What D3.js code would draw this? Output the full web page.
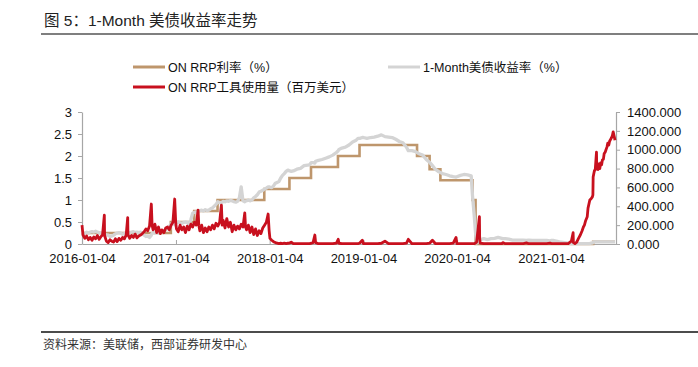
<!DOCTYPE html>
<html><head><meta charset="utf-8">
<script src="https://cdn.jsdelivr.net/npm/d3@7"></script>
<style>
html,body{margin:0;padding:0;background:#fff;}
svg{display:block;}
text{font-family:"Liberation Sans",Arial,"Noto Sans CJK SC",sans-serif;}
</style></head>
<body>
<svg id="chart" width="698" height="367"></svg>
<script>
// ---------- DATA ----------
const titleText = "图 5：1-Month 美债收益率走势";
const sourceText = "资料来源：美联储，西部证券研发中心";
const seriesNames = ["ON RRP利率（%）", "1-Month美债收益率（%）", "ON RRP工具使用量（百万美元）"];

const dates = [
  // 2016
  "2016-01-04","2016-01-08","2016-01-15","2016-01-22","2016-01-29",
  "2016-02-05","2016-02-12","2016-02-19","2016-02-26",
  "2016-03-04","2016-03-11","2016-03-18","2016-03-24","2016-03-31",
  "2016-04-01","2016-04-08","2016-04-15","2016-04-22","2016-04-29",
  "2016-05-06","2016-05-13","2016-05-20","2016-05-27",
  "2016-06-03","2016-06-10","2016-06-17","2016-06-24","2016-06-30",
  "2016-07-01","2016-07-08","2016-07-15","2016-07-22","2016-07-29",
  "2016-08-05","2016-08-12","2016-08-19","2016-08-26",
  "2016-09-02","2016-09-09","2016-09-16","2016-09-23","2016-09-30",
  "2016-10-03","2016-10-07","2016-10-14","2016-10-21","2016-10-28",
  "2016-11-04","2016-11-10","2016-11-18","2016-11-25",
  "2016-12-02","2016-12-09","2016-12-16","2016-12-23","2016-12-30",
  // 2017
  "2017-01-03","2017-01-06","2017-01-13","2017-01-20","2017-01-27",
  "2017-02-03","2017-02-10","2017-02-17","2017-02-24",
  "2017-03-03","2017-03-10","2017-03-17","2017-03-24","2017-03-31",
  "2017-04-03","2017-04-07","2017-04-14","2017-04-21","2017-04-28",
  "2017-05-05","2017-05-12","2017-05-19","2017-05-26",
  "2017-06-02","2017-06-09","2017-06-16","2017-06-23","2017-06-30",
  "2017-07-03","2017-07-07","2017-07-14","2017-07-21","2017-07-28",
  "2017-08-04","2017-08-11","2017-08-18","2017-08-25",
  "2017-09-01","2017-09-08","2017-09-15","2017-09-22","2017-09-29",
  "2017-10-02","2017-10-06","2017-10-13","2017-10-20","2017-10-27",
  "2017-11-03","2017-11-10","2017-11-17","2017-11-24",
  "2017-12-01","2017-12-08","2017-12-15","2017-12-22","2017-12-29",
  // 2018
  "2018-01-02","2018-01-05","2018-01-12","2018-01-19","2018-01-26",
  "2018-02-02","2018-02-09","2018-02-16","2018-02-23",
  "2018-03-02","2018-03-09","2018-03-16","2018-03-23","2018-03-29",
  "2018-04-06","2018-04-20",
  "2018-05-04","2018-05-18",
  "2018-06-08","2018-06-15","2018-06-22","2018-06-29",
  "2018-07-02","2018-07-13","2018-07-27",
  "2018-08-10","2018-08-24",
  "2018-09-07","2018-09-21","2018-09-28",
  "2018-10-01","2018-10-12","2018-10-26",
  "2018-11-09","2018-11-23",
  "2018-12-07","2018-12-14","2018-12-21","2018-12-31",
  // 2019
  "2019-01-04","2019-01-18",
  "2019-02-01","2019-02-15",
  "2019-03-01","2019-03-15","2019-03-29",
  "2019-04-12","2019-04-26",
  "2019-05-10","2019-05-24",
  "2019-06-07","2019-06-21","2019-06-28",
  "2019-07-12","2019-07-26",
  "2019-08-09","2019-08-23",
  "2019-09-06","2019-09-20","2019-09-30",
  "2019-10-11","2019-10-25",
  "2019-11-08","2019-11-22",
  "2019-12-06","2019-12-20","2019-12-31",
  // 2020
  "2020-01-03","2020-01-17","2020-01-31",
  "2020-02-14","2020-02-28",
  "2020-03-04","2020-03-10","2020-03-16","2020-03-20","2020-03-31",
  "2020-04-01","2020-04-03","2020-04-17",
  "2020-05-01","2020-05-15","2020-05-29",
  "2020-06-12","2020-06-26","2020-06-30",
  "2020-07-10","2020-07-24",
  "2020-08-07","2020-08-21",
  "2020-09-04","2020-09-18","2020-09-30",
  "2020-10-09","2020-10-23",
  "2020-11-06","2020-11-20",
  "2020-12-04","2020-12-18","2020-12-31",
  // 2021
  "2021-01-04","2021-01-15","2021-01-29",
  "2021-02-12","2021-02-26",
  "2021-03-12","2021-03-24","2021-03-31",
  "2021-04-01","2021-04-07","2021-04-14","2021-04-21","2021-04-28",
  "2021-05-05","2021-05-10","2021-05-14","2021-05-19","2021-05-25","2021-05-28",
  "2021-06-04","2021-06-09","2021-06-14","2021-06-16","2021-06-17","2021-06-22","2021-06-25","2021-06-30",
  "2021-07-01","2021-07-06","2021-07-09","2021-07-13","2021-07-16","2021-07-20","2021-07-23","2021-07-27","2021-07-30",
  "2021-08-03","2021-08-06","2021-08-10","2021-08-13","2021-08-17","2021-08-20","2021-08-24","2021-08-27","2021-08-31",
  "2021-09-03","2021-09-08","2021-09-10"
];

// 1-Month Treasury yield (%)
const tbillYield = [
  // 2016
  0.20,0.22,0.23,0.27,0.25,
  0.27,0.28,0.27,0.29,
  0.27,0.26,0.25,0.22,0.20,
  0.19,0.21,0.20,0.17,0.18,
  0.20,0.23,0.25,0.26,
  0.25,0.22,0.24,0.22,0.20,
  0.24,0.26,0.27,0.28,0.26,
  0.27,0.26,0.27,0.25,
  0.20,0.17,0.18,0.15,0.20,
  0.24,0.26,0.25,0.26,0.25,
  0.27,0.28,0.30,0.32,
  0.36,0.40,0.45,0.48,0.44,
  // 2017
  0.48,0.48,0.50,0.48,0.47,
  0.49,0.50,0.49,0.45,
  0.55,0.70,0.72,0.73,0.72,
  0.75,0.76,0.77,0.75,0.78,
  0.76,0.77,0.80,0.82,
  0.86,0.90,0.96,0.94,0.93,
  0.95,0.97,0.96,0.98,0.97,
  0.99,0.98,0.96,0.95,
  0.97,1.05,1.30,0.98,0.96,
  0.98,0.98,1.00,0.98,1.00,
  1.05,1.08,1.12,1.18,
  1.20,1.22,1.25,1.27,1.30,
  // 2018
  1.30,1.29,1.28,1.32,1.38,
  1.40,1.42,1.50,1.56,
  1.60,1.65,1.68,1.66,1.65,
  1.66,1.70,
  1.72,1.78,
  1.80,1.85,1.85,1.84,
  1.88,1.90,1.92,
  1.95,1.98,
  2.02,2.08,2.12,
  2.15,2.18,2.20,
  2.25,2.32,
  2.36,2.40,2.40,2.42,
  // 2019
  2.42,2.40,
  2.42,2.43,
  2.45,2.48,2.44,
  2.43,2.42,
  2.38,2.33,
  2.30,2.20,2.12,
  2.12,2.10,
  2.05,2.02,
  1.92,1.85,1.78,
  1.70,1.64,
  1.60,1.58,
  1.55,1.53,1.52,
  // 2020
  1.53,1.56,1.58,
  1.57,1.55,
  1.10,0.70,0.25,0.02,0.05,
  0.08,0.10,0.12,
  0.10,0.12,0.13,
  0.15,0.13,0.12,
  0.12,0.11,
  0.09,0.09,
  0.09,0.09,0.08,
  0.09,0.08,
  0.08,0.08,
  0.08,0.08,0.07,
  // 2021
  0.08,0.08,0.06,
  0.04,0.03,
  0.02,0.01,0.01,
  0.01,0.01,0.01,0.01,0.01,
  0.01,0.01,0.01,0.01,0.01,0.01,
  0.01,0.02,0.02,0.03,0.04,0.05,0.05,0.05,
  0.05,0.05,0.05,0.05,0.05,0.05,0.05,0.05,0.05,
  0.05,0.05,0.05,0.05,0.05,0.05,0.05,0.05,0.05,
  0.05,0.05,0.05
];

// ON RRP facility usage
const rrpVolume = [
  // 2016
  200,95,60,85,45,
  70,40,75,55,
  90,50,80,95,307,
  90,30,15,45,30,
  20,55,25,60,
  40,70,55,95,280,
  100,60,90,70,105,
  65,85,95,110,
  130,160,140,190,424,
  200,150,210,120,180,
  110,150,120,170,
  180,150,200,230,477,
  // 2017
  230,160,130,200,150,
  180,120,190,150,
  210,180,230,200,360,
  200,140,200,120,170,
  130,180,150,200,
  160,220,190,230,413,
  200,250,170,270,180,
  230,130,200,150,
  190,160,210,180,330,
  180,150,200,120,180,
  100,160,90,140,
  110,170,200,230,318,
  // 2018
  140,60,40,25,15,
  10,5,8,5,
  10,5,8,10,20,
  5,3,
  3,5,
  5,8,15,95,
  15,3,5,
  3,5,
  3,10,50,
  8,3,5,
  3,5,
  5,3,10,40,
  // 2019
  5,3,
  5,3,
  5,8,30,
  3,5,
  3,5,
  5,10,50,
  3,5,
  3,5,
  5,10,40,
  5,3,
  5,3,
  5,10,70,
  // 2020
  5,3,5,
  3,5,
  5,3,10,20,290,
  60,10,3,
  3,5,3,
  5,3,15,
  3,5,
  3,5,
  3,5,12,
  3,3,
  3,5,
  3,5,10,
  // 2021
  5,3,5,
  3,5,
  5,30,120,
  15,5,20,60,95,
  140,180,200,250,290,380,
  466,480,500,520,710,780,785,975,
  816,790,850,800,860,840,890,900,960,
  975,1000,1030,1070,1050,1090,1110,1124,1150,
  1190,1130,1100
];

// ON RRP rate (%) step changes
const rateDates  = ["2016-01-04","2016-12-15","2017-03-16","2017-06-15","2017-12-14","2018-03-22","2018-06-14","2018-09-27","2018-12-20","2019-08-01","2019-09-19","2019-10-31","2020-03-04","2020-03-16","2021-06-17","2021-09-10"];
const rateValues = [0.25,0.50,0.75,1.00,1.25,1.50,1.75,2.00,2.25,2.00,1.70,1.45,1.00,0.00,0.05,0.05];

const xTickLabels = ["2016-01-04","2017-01-04","2018-01-04","2019-01-04","2020-01-04","2021-01-04"];
const leftTicks = [0,0.5,1,1.5,2,2.5,3];
const leftTickLabels = ["0","0.5","1","1.5","2","2.5","3"];
const rightTicks = [0,200,400,600,800,1000,1200,1400];
const rightTickLabels = ["0.000","200.000","400.000","600.000","800.000","1000.000","1200.000","1400.000"];
const xDomain = ["2016-01-04","2021-09-14"];

// ---------- CHART ----------
const parse = d3.timeParse("%Y-%m-%d");
const svg = d3.select("#chart");
svg.append("rect").attr("width",698).attr("height",367).attr("fill","#fff");

const plot = {left:82, right:616, top:112, bottom:244};
const x = d3.scaleTime().domain(xDomain.map(parse)).range([plot.left, plot.right]);
const yL = d3.scaleLinear().domain([0,3]).range([plot.bottom, plot.top]);
const yR = d3.scaleLinear().domain([0,1400]).range([plot.bottom, plot.top]);

const COL_RATE = "#BE966C", COL_BILL = "#D4D4D4", COL_RRP = "#C8101E", AXIS = "#A6A6A6";

// title
svg.append("text").attr("x",44).attr("y",26).attr("font-size",15.5).attr("fill","#222")
  .style("font-family",'"Liberation Sans",Arial,"Noto Sans CJK SC",sans-serif').text(titleText);
svg.append("line").attr("x1",41).attr("x2",698).attr("y1",34).attr("y2",34).attr("stroke","#7f7f7f").attr("stroke-width",1.8);

// legend
const legend = [
  {name:seriesNames[0], color:COL_RATE, x:133, y:67},
  {name:seriesNames[1], color:COL_BILL, x:388, y:67},
  {name:seriesNames[2], color:COL_RRP,  x:133, y:87}
];
const lg = svg.append("g");
legend.forEach(l=>{
  lg.append("line").attr("x1",l.x).attr("x2",l.x+32).attr("y1",l.y).attr("y2",l.y).attr("stroke",l.color).attr("stroke-width",3);
  lg.append("text").attr("x",l.x+35).attr("y",l.y).attr("dy","0.36em").attr("font-size",12.5).attr("fill","#111").text(l.name);
});

// axes
const gx = svg.append("g").attr("transform",`translate(0,${plot.bottom})`)
  .call(d3.axisBottom(x).tickValues(xTickLabels.map(parse)).tickFormat((d,i)=>xTickLabels[i]).tickSizeInner(-4).tickSizeOuter(0).tickPadding(10));
const gl = svg.append("g").attr("transform",`translate(${plot.left},0)`)
  .call(d3.axisLeft(yL).tickValues(leftTicks).tickFormat((d,i)=>leftTickLabels[i]).tickSizeInner(4).tickSizeOuter(0).tickPadding(6));
const gr = svg.append("g").attr("transform",`translate(${plot.right},0)`)
  .call(d3.axisRight(yR).tickValues(rightTicks).tickFormat((d,i)=>rightTickLabels[i]).tickSizeInner(4).tickSizeOuter(0).tickPadding(7));
[gx,gl,gr].forEach(g=>{
  g.selectAll("path.domain").attr("stroke",AXIS).attr("stroke-width",1.2);
  g.selectAll(".tick line").attr("stroke",AXIS);
  g.selectAll(".tick text").attr("font-size",13).attr("fill","#111")
    .style("font-family",'"Liberation Sans",Arial,sans-serif');
});

// series
const parsedDates = dates.map(parse);
const rateLine = d3.line().x(d=>x(d[0])).y(d=>yL(d[1])).curve(d3.curveStepAfter);
svg.append("path").datum(rateDates.map((d,i)=>[parse(d), rateValues[i]]))
  .attr("d",rateLine).attr("fill","none").attr("stroke",COL_RATE).attr("stroke-width",2.6);

const billLine = d3.line().x(d=>x(d[0])).y(d=>yL(d[1]));
svg.append("path").datum(parsedDates.map((d,i)=>[d, tbillYield[i]]))
  .attr("d",billLine).attr("fill","none").attr("stroke",COL_BILL).attr("stroke-width",3.3).attr("stroke-linejoin","round");

const rrpLine = d3.line().x(d=>x(d[0])).y(d=>yR(d[1]));
svg.append("path").datum(parsedDates.map((d,i)=>[d, rrpVolume[i]]))
  .attr("d",rrpLine).attr("fill","none").attr("stroke",COL_RRP).attr("stroke-width",2.8).attr("stroke-linejoin","round");

// footer
svg.append("line").attr("x1",41).attr("x2",698).attr("y1",332).attr("y2",332).attr("stroke","#111").attr("stroke-width",1.3);
svg.append("text").attr("x",43).attr("y",349).attr("font-size",12).attr("fill","#333")
  .style("font-family",'"Noto Sans CJK SC",sans-serif').text(sourceText);
</script>
</body></html>
